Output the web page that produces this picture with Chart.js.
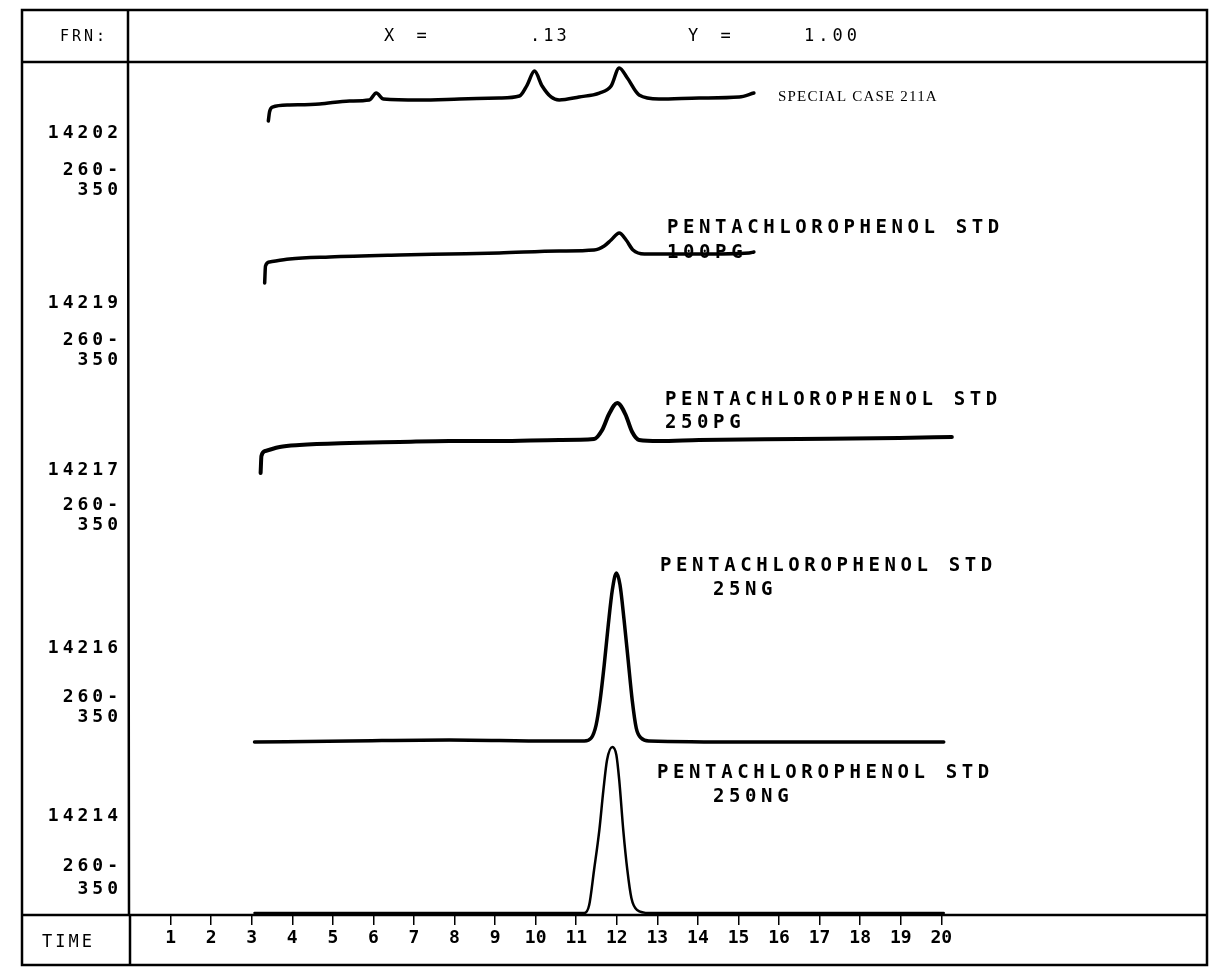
<!DOCTYPE html>
<html>
<head>
<meta charset="utf-8">
<style>
  html, body { margin: 0; padding: 0; background: #fff; }
  canvas { display: block; }
</style>
<script src="https://cdn.jsdelivr.net/npm/chart.js@4.4.1/dist/chart.umd.min.js"></script>
</head>
<body>
<canvas id="chart" width="1221" height="973"></canvas>
<script>
// time axis (minutes)
const timeTicks = [1, 2, 3, 4, 5, 6, 7, 8, 9, 10, 11, 12, 13, 14, 15, 16, 17, 18, 19, 20];

// run labels down the left column
const runIds = ['14202', '14219', '14217', '14216', '14214'];
const wavelengthLabels = ['260-', '350'];

// trace names
const sampleNames = [
    ['SPECIAL CASE 211A'],
    ['PENTACHLOROPHENOL STD', '100PG'],
    ['PENTACHLOROPHENOL STD', '250PG'],
    ['PENTACHLOROPHENOL STD', '25NG'],
    ['PENTACHLOROPHENOL STD', '250NG'],
];

// baseline level of each stacked trace
const traceOffsets = [93, 73, 50, 20, 0];

// 14202 - special case 211A
const run14202Time = [3.41, 3.44, 3.51, 3.93, 4.67, 5.41, 5.90, 6.07, 6.25, 7.13, 8.12, 9.10, 9.60, 9.79, 9.97, 10.16, 10.38, 10.58, 11.07, 11.57, 11.86, 12.06, 12.26, 12.55, 13.04, 14.03, 15.02, 15.38];
const run14202Signal = [0.08, 1.14, 1.72, 1.96, 2.08, 2.43, 2.55, 3.36, 2.66, 2.55, 2.66, 2.78, 3.01, 4.30, 5.94, 4.19, 2.90, 2.55, 2.90, 3.36, 4.18, 6.30, 5.12, 3.13, 2.66, 2.78, 2.90, 3.36];

// 14219 - PCP std 100 pg
const run14219Time = [3.32, 3.34, 3.44, 3.93, 4.92, 6.64, 7.87, 9.10, 10.58, 11.44, 11.69, 11.86, 12.06, 12.23, 12.40, 12.68, 14.03, 15.26, 15.38];
const run14219Signal = [1.09, 3.08, 3.55, 3.90, 4.14, 4.37, 4.49, 4.61, 4.84, 4.96, 5.43, 6.13, 6.95, 6.13, 4.96, 4.49, 4.49, 4.61, 4.72];

// 14217 - PCP std 250 pg
const run14217Time = [3.22, 3.24, 3.34, 3.69, 4.18, 5.41, 6.64, 7.87, 9.10, 10.58, 11.44, 11.64, 11.81, 12.01, 12.21, 12.38, 12.55, 13.04, 14.03, 16.49, 18.96, 20.26];
const run14217Signal = [1.82, 3.81, 4.40, 4.87, 5.10, 5.33, 5.45, 5.57, 5.57, 5.69, 5.80, 6.86, 8.73, 10.02, 8.73, 6.62, 5.69, 5.57, 5.69, 5.80, 5.92, 6.04];

// 14216 - PCP std 25 ng
const run14216Time = [3.07, 5.41, 7.87, 10.34, 11.20, 11.37, 11.49, 11.59, 11.69, 11.79, 11.89, 11.99, 12.08, 12.18, 12.28, 12.38, 12.48, 12.60, 12.80, 15.26, 17.72, 20.06];
const run14216Signal = [0.28, 0.40, 0.52, 0.40, 0.40, 0.75, 2.27, 5.21, 9.31, 14.00, 18.10, 20.09, 18.69, 14.58, 9.89, 5.21, 1.92, 0.75, 0.40, 0.28, 0.28, 0.28];

// 14214 - PCP std 250 ng
const run14214Time = [3.07, 11.20, 11.32, 11.44, 11.57, 11.67, 11.76, 11.89, 11.99, 12.06, 12.16, 12.26, 12.36, 12.50, 12.80, 20.06];
const run14214Signal = [0.23, 0.23, 1.17, 5.28, 9.96, 14.65, 18.17, 19.70, 18.76, 15.83, 9.96, 5.28, 1.99, 0.59, 0.23, 0.23];

const runTimes = [run14202Time, run14219Time, run14217Time, run14216Time, run14214Time];
const runSignals = [run14202Signal, run14219Signal, run14217Signal, run14216Signal, run14214Signal];
const lineWidths = [3.5, 3.5, 4, 3.5, 2.5];

const datasets = runIds.map((id, i) => ({
    label: id,
    data: runTimes[i].map((t, j) => ({ x: t, y: traceOffsets[i] + runSignals[i][j] })),
    borderColor: '#000',
    borderWidth: lineWidths[i],
    fill: false,
}));

const MONO = '"DejaVu Sans Mono", monospace';

function text(ctx, str, x, y, font, spacing, align) {
    ctx.font = font;
    ctx.letterSpacing = spacing + 'px';
    ctx.textAlign = align || 'left';
    ctx.textBaseline = 'middle';
    ctx.fillText(str, x, y);
}

const framePlugin = {
    id: 'chromFrame',
    afterDraw(chart) {
        const { ctx, chartArea } = chart;
        const left = 22, right = 1207, top = 10, bottom = 965;
        const divX = 128;
        ctx.save();
        ctx.strokeStyle = '#000';
        ctx.fillStyle = '#000';
        ctx.lineWidth = 2.5;
        ctx.beginPath();
        ctx.rect(left, top, right - left, bottom - top);
        ctx.moveTo(left, chartArea.top);
        ctx.lineTo(right, chartArea.top);
        ctx.moveTo(left, chartArea.bottom);
        ctx.lineTo(right, chartArea.bottom);
        ctx.moveTo(divX, top);
        ctx.lineTo(divX, chartArea.top);
        ctx.moveTo(divX, chartArea.top);
        ctx.lineTo(divX + 1, chartArea.bottom);
        ctx.moveTo(divX + 2, chartArea.bottom);
        ctx.lineTo(divX + 2, bottom);
        ctx.stroke();

        // header row
        const hy = (top + chartArea.top) / 2 + 1;
        text(ctx, 'FRN:', 60, hy, '15px ' + MONO, 3);
        text(ctx, 'X =', 384, hy, '17px ' + MONO, 6);
        text(ctx, '.13', 530, hy, '17px ' + MONO, 3);
        text(ctx, 'Y =', 688, hy, '17px ' + MONO, 6);
        text(ctx, '1.00', 804, hy, '17px ' + MONO, 4);

        // time row
        text(ctx, 'TIME', 42, 943, '17px ' + MONO, 3);

        // left column run labels
        const idY = [133, 303, 470, 648, 816];
        const wlY = [[170, 190], [340, 360], [505, 525], [697, 717], [866, 889]];
        runIds.forEach((id, i) => {
            text(ctx, id, 122, idY[i], 'bold 18px ' + MONO, 4, 'right');
            text(ctx, wavelengthLabels[0], 122, wlY[i][0], 'bold 18px ' + MONO, 4, 'right');
            text(ctx, wavelengthLabels[1], 122, wlY[i][1], 'bold 18px ' + MONO, 4, 'right');
        });

        // sample names next to traces
        text(ctx, sampleNames[0][0], 778, 97, '15px "Liberation Serif", serif', 1.2);
        const namePos = [null, [[667, 228], [667, 253]], [[665, 400], [665, 423]], [[660, 566], [713, 590]], [[657, 773], [713, 797]]];
        for (let i = 1; i < sampleNames.length; i++) {
            sampleNames[i].forEach((s, k) => {
                text(ctx, s, namePos[i][k][0], namePos[i][k][1], 'bold 19px ' + MONO, 4.6);
            });
        }
        ctx.restore();
    },
};

new Chart(document.getElementById('chart').getContext('2d'), {
    type: 'line',
    data: { datasets },
    options: {
        responsive: false,
        animation: false,
        events: [],
        layout: { padding: { left: 130, right: 14, top: 62, bottom: 18 } },
        plugins: {
            legend: { display: false },
            tooltip: { enabled: false },
        },
        elements: {
            point: { radius: 0 },
            line: { cubicInterpolationMode: 'monotone', borderCapStyle: 'round', borderJoinStyle: 'round' },
        },
        scales: {
            x: {
                type: 'linear',
                min: 0,
                max: 26.55,
                afterBuildTicks: (scale) => {
                    scale.ticks = timeTicks.map((v) => ({ value: v }));
                },
                afterFit: (scale) => {
                    scale.height = 40;
                },
                border: { display: false },
                grid: {
                    drawOnChartArea: false,
                    drawTicks: true,
                    tickLength: 10,
                    color: '#000',
                    lineWidth: 1.5,
                },
                ticks: {
                    color: '#000',
                    font: { family: 'DejaVu Sans Mono', size: 18, weight: 'bold' },
                    padding: 3,
                    maxRotation: 0,
                    autoSkip: false,
                },
            },
            y: { display: false, min: 0, max: 100 },
        },
    },
    plugins: [framePlugin],
});
</script>
</body>
</html>
